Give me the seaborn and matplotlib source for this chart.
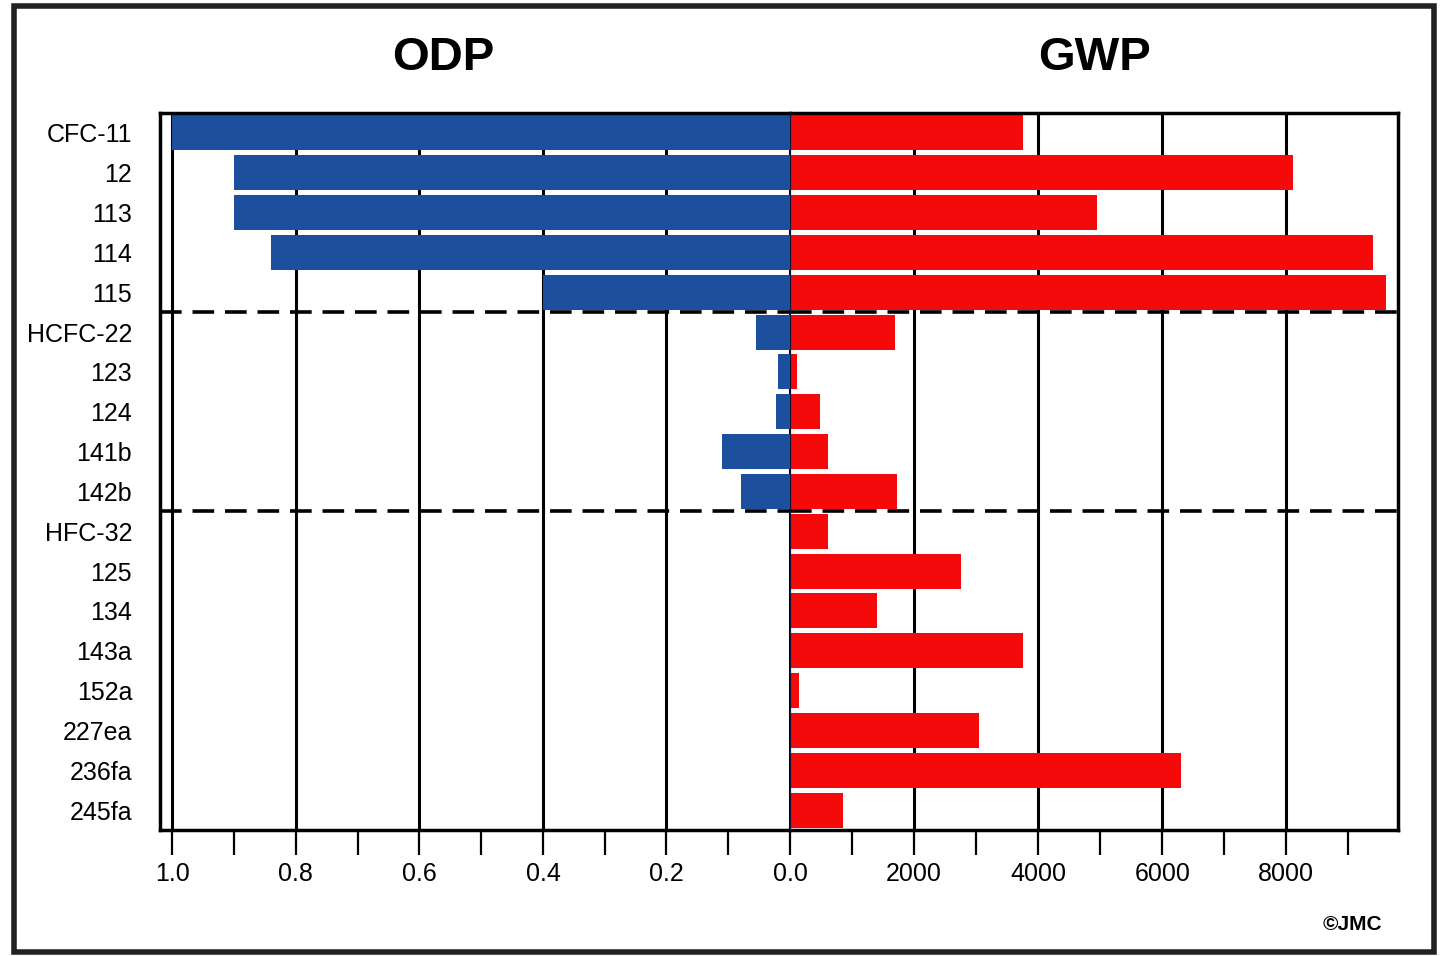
import matplotlib
matplotlib.use("Agg")
import matplotlib.pyplot as plt
import seaborn as sns
import pandas as pd
from matplotlib.patches import Rectangle
from matplotlib.ticker import FixedLocator

categories = ["CFC-11", "12", "113", "114", "115", "HCFC-22", "123", "124", "141b", "142b",
              "HFC-32", "125", "134", "143a", "152a", "227ea", "236fa", "245fa"]
odp = [1.0, 0.9, 0.9, 0.84, 0.4, 0.055, 0.02, 0.022, 0.11, 0.08,
       0, 0, 0, 0, 0, 0, 0, 0]
gwp = [3750, 8100, 4950, 9400, 9600, 1700, 120, 480, 620, 1720,
       620, 2750, 1400, 3750, 140, 3050, 6300, 850]
odp_ticks = [1.0, 0.8, 0.6, 0.4, 0.2, 0.0]
odp_tick_labels = ["1.0", "0.8", "0.6", "0.4", "0.2", "0.0"]
odp_minor = [0.9, 0.7, 0.5, 0.3, 0.1]
gwp_ticks = [2000, 4000, 6000, 8000]
gwp_tick_labels = ["2000", "4000", "6000", "8000"]
gwp_minor = [1000, 3000, 5000, 7000, 9000]
group_breaks = [4.5, 9.5]

df = pd.DataFrame({"compound": categories, "ODP": odp, "GWP": gwp})

sns.set_style("white")
FAM = ["Liberation Sans", "DejaVu Sans"]
plt.rcParams["font.family"] = FAM
plt.rcParams["text.color"] = "black"
plt.rcParams["xtick.color"] = "black"
plt.rcParams["ytick.color"] = "black"
plt.rcParams["xtick.labelcolor"] = "black"
plt.rcParams["ytick.labelcolor"] = "black"

BLUE = "#1c4f9e"
RED = "#f40a0a"

fig = plt.figure(figsize=(14.41, 9.56), dpi=100)
L, M, R = 160 / 1441, 790 / 1441, 1398 / 1441
B, T = 1 - 830 / 956, 1 - 113 / 956
axL = fig.add_axes([L, B, M - L, T - B])
axR = fig.add_axes([M, B, R - M, T - B], sharey=axL)

sns.barplot(data=df, x="ODP", y="compound", order=categories, orient="h",
            color=BLUE, saturation=1, width=0.88, linewidth=0, ax=axL, zorder=2)
sns.barplot(data=df, x="GWP", y="compound", order=categories, orient="h",
            color=RED, saturation=1, width=0.88, linewidth=0, ax=axR, zorder=2)

axL.set_xlim(1.02, 0)
axR.set_xlim(0, 9800)

for ax in (axL, axR):
    ax.set_xlabel("")
    ax.set_ylabel("")
    ax.set_axisbelow(True)
    for s in ax.spines.values():
        s.set_color("black")
        s.set_linewidth(2.5)
    ax.tick_params(axis="x", which="both", direction="out", length=18, width=1.6,
                   color="black", pad=5, labelsize=18, bottom=True)
    ax.tick_params(axis="y", length=0)
    for yb in group_breaks:
        ax.axhline(yb, color="black", lw=2.6, linestyle=(0, (6, 3)), zorder=3)

axL.xaxis.set_major_locator(FixedLocator(odp_ticks))
axL.set_xticklabels(odp_tick_labels)
axL.xaxis.set_minor_locator(FixedLocator(odp_minor))
axL.grid(axis="x", which="major", color="black", lw=2.2)
axL.grid(axis="y", visible=False)
axL.spines["right"].set_visible(False)
axL.tick_params(axis="y", labelsize=18, pad=20)

axR.xaxis.set_major_locator(FixedLocator(gwp_ticks))
axR.set_xticklabels(gwp_tick_labels)
axR.xaxis.set_minor_locator(FixedLocator(gwp_minor))
axR.grid(axis="x", which="major", color="black", lw=2.2)
axR.grid(axis="y", visible=False)
axR.spines["left"].set_visible(False)
axR.tick_params(axis="y", labelleft=False)
axR.axvline(0, color="#111133", lw=1.6, zorder=3)

fig.text(443 / 1441, 1 - 58 / 956, "ODP", ha="center", va="center",
         fontsize=34, fontweight="bold", family=FAM, color="black")
fig.text(1095 / 1441, 1 - 58 / 956, "GWP", ha="center", va="center",
         fontsize=34, fontweight="bold", family=FAM, color="black")
fig.text(1352 / 1441, 1 - 925 / 956, "©JMC", ha="center", va="center",
         fontsize=15, fontweight="bold", family=FAM, color="black")

fig.patches.append(Rectangle((14 / 1441, 4 / 956), 1420 / 1441, 946 / 956,
                             transform=fig.transFigure, fill=False,
                             edgecolor="#222222", lw=4))

fig.savefig("out.png", dpi=100)
